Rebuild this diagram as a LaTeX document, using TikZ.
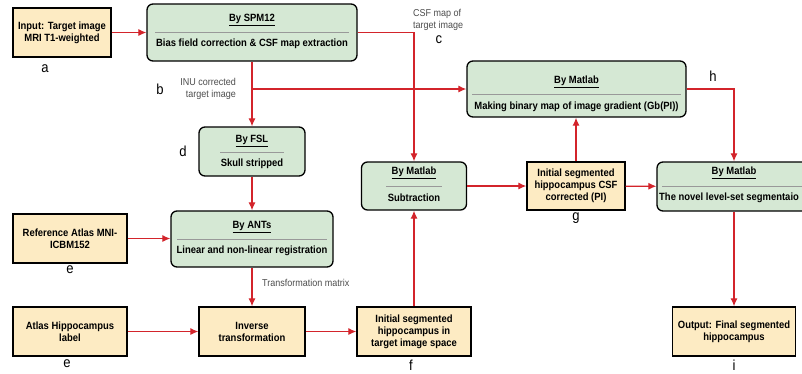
\documentclass[tikz,border=0pt]{standalone}
\usepackage{fontspec}
\setmainfont[FakeStretch=0.9]{Liberation Sans}
\usepackage{tikz}
\usetikzlibrary{arrows.meta}

\definecolor{toolgreen}{HTML}{D5E8D4}
\definecolor{datayellow}{HTML}{FDEBC3}
\definecolor{flowred}{HTML}{D3242B}

\tikzset{
	tool/.style={draw, line width=1.3pt, rounded corners=6pt, fill=toolgreen},
	data/.style={draw, line width=1.3pt, fill=datayellow, align=center, font=\fontsize{10.5}{12}\selectfont\bfseries},
	boxtext/.style={font=\fontsize{10.5}{12}\selectfont\bfseries},
	sep/.style={draw=gray!80, line width=0.6pt},
	flow/.style={draw=flowred, line width=1.2pt, -{Latex[length=8pt, width=7pt]}},
	tag/.style={font=\fontsize{14.5}{16}\selectfont},
	note/.style={font=\fontsize{10}{11.5}\selectfont, text=black!70, inner sep=1pt}
}

\begin{document}
\begin{tikzpicture}[x=1pt, y=-1pt]
		\useasboundingbox (0,0) rectangle (802,373);
		
		% data boxes
		\node [data, minimum width=98, minimum height=49] (inp) at (62, 32.5) {Input: Target image\\MRI T1-weighted};
		\node [data, minimum width=98, minimum height=48] (pi) at (576, 186) {Initial segmented\\hippocampus CSF\\corrected (PI)};
		\node [data, minimum width=114, minimum height=49] (ref) at (70, 238.5) {Reference Atlas MNI-\\ICBM152};
		\node [data, minimum width=114, minimum height=49] (hip) at (70, 331.5) {Atlas Hippocampus\\label};
		\node [data, minimum width=106, minimum height=49] (inv) at (252, 331.5) {Inverse\\transformation};
		\node [data, minimum width=114, minimum height=49] (init) at (414, 331.5) {Initial segmented\\hippocampus in\\target image space};
		\node [data, minimum width=123, minimum height=49] (out) at (734, 331.5) {Output: Final segmented\\hippocampus};
		
		% tool boxes
		\node [tool, minimum width=210, minimum height=57] (spm) at (252, 32.5) {};
		\node [boxtext] at (252, 20) {\underline{By SPM12}};
		\draw [sep] (155, 32) -- (349, 32);
		\node [boxtext] at (252, 44) {Bias field correction \& CSF map extraction};
		
		\node [tool, minimum width=106, minimum height=49] (fsl) at (252, 151.5) {};
		\node [boxtext] at (252, 141) {\underline{By FSL}};
		\draw [sep] (220, 152) -- (284, 152);
		\node [boxtext] at (252, 164) {Skull stripped};
		
		\node [tool, minimum width=219, minimum height=56] (grad) at (576.5, 89) {};
		\node [boxtext] at (576.5, 82) {\underline{By Matlab}};
		\draw [sep] (472, 94) -- (681, 94);
		\node [boxtext] at (576.5, 107) {Making binary map of image gradient (Gb(PI))};
		
		\node [tool, minimum width=105, minimum height=48] (sub) at (414, 186) {};
		\node [boxtext] at (414, 173) {\underline{By Matlab}};
		\draw [sep] (386, 186) -- (442, 186);
		\node [boxtext] at (414, 198) {Subtraction};
		
		\node [tool, minimum width=154, minimum height=49] (lvl) at (734, 186.5) {};
		\node [boxtext] at (734, 173) {\underline{By Matlab}};
		\draw [sep] (662, 186) -- (806, 186);
		\node [boxtext, anchor=west, inner sep=0pt] at (659, 198) {The novel level-set segmentaio};
		
		\node [tool, minimum width=162, minimum height=56] (ants) at (252, 239) {};
		\node [boxtext] at (252, 227) {\underline{By ANTs}};
		\draw [sep] (177, 239) -- (327, 239);
		\node [boxtext] at (252, 251) {Linear and non-linear registration};
		
		% connectors
		\draw [flow] (inp) -- (spm);
		\draw [flow] (spm) -- (fsl);
		\draw [flow] (spm.south |- grad) -- (grad);
		\draw [flow] (spm.east) -| (sub.north);
		\draw [flow] (grad.east) -| (lvl.north);
		\draw [flow] (sub) -- (pi);
		\draw [flow] (pi) -- (lvl);
		\draw [flow] (pi.north) -- (pi.north |- grad.south);
		\draw [flow] (fsl) -- (ants);
		\draw [flow] (ref.east) -- (ref.east -| ants.west);
		\draw [flow] (ants) -- (inv);
		\draw [flow] (hip) -- (inv);
		\draw [flow] (inv) -- (init);
		\draw [flow] (init) -- (sub);
		\draw [flow] (lvl) -- (out);
		
		% notes on the connectors
		\node [note, anchor=east, align=right] at (237, 89) {INU corrected\\target image};
		\node [note, anchor=west, align=left] at (412, 20) {CSF map of\\target image};
		\node [note, anchor=west] at (261, 283) {Transformation matrix};
		
		\node [tag] at (45, 69) {a};
		\node [tag] at (160, 89) {b};
		\node [tag] at (439, 40) {c};
		\node [tag] at (183, 151) {d};
		\node [tag] at (70, 270) {e};
		\node [tag] at (67, 364) {e};
		\node [tag] at (411, 365) {f};
		\node [tag] at (576, 218) {g};
		\node [tag] at (713, 76) {h};
		\node [tag] at (734, 365) {i};
	\end{tikzpicture}
\end{document}
